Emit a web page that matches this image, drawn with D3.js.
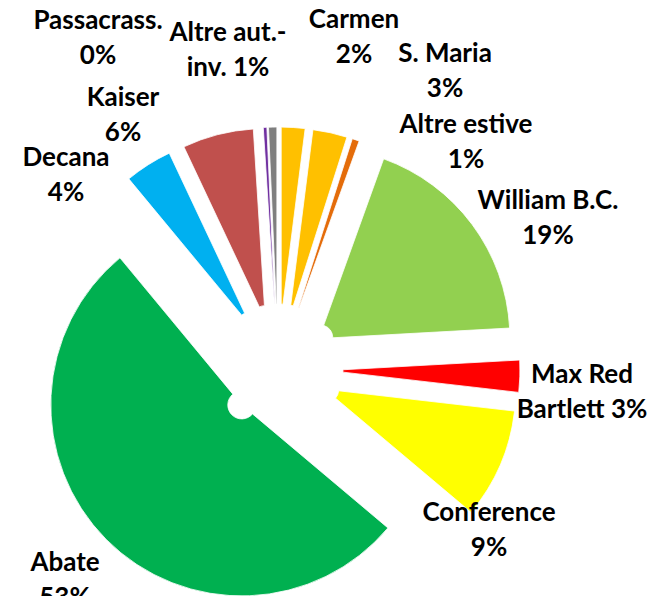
<!DOCTYPE html>
<html>
<head>
<meta charset="utf-8">
<script src="https://cdn.jsdelivr.net/npm/d3@7"></script>
<style>
  body { margin: 0; background: #fff; }
  .lbl { font-family: Lato, "Open Sans", sans-serif; font-weight: 700; font-size: 26px; fill: #000; }
</style>
</head>
<body>
<script>
const svgWidth = 654,
    svgHeight = 596,
    cx = 278, cy = 369,
    outerR = 191, innerR = 14,
    explode = 51,
    lineGap = 35;

// pie slices, clockwise from 12 o'clock (share in %)
const names = ["Carmen", "S. Maria", "Altre estive", "William B.C.", "Max Red Bartlett", "Conference",
    "Abate", "Decana", "Kaiser", "Passacrass.", "Altre aut.-inv."];
const values = [2.0, 2.9, 0.6, 18.6, 2.7, 9.3, 52.8, 4.0, 6.0, 0.3, 0.7];
const colors = ["#FFC000", "#FFC000", "#E46C0A", "#92D050", "#FF0000", "#FFFF00",
    "#00B050", "#00B0F0", "#C0504D", "#7030A0", "#7F7F7F"];
// how each label breaks over two lines (the percent goes on the last line)
const labelLines = [["Carmen"], ["S. Maria"], ["Altre estive"], ["William B.C."], ["Max Red", "Bartlett"],
    ["Conference"], ["Abate"], ["Decana"], ["Kaiser"], ["Passacrass."], ["Altre aut.-", "inv."]];
// label block centres, relative to the pie centre
const labelPos = [[76, -333], [167, -299], [188, -228], [270, -152], [304, 22],
    [211, 160], [-213, 210], [-212, -195], [-155, -255], [-180, -332], [-50, -320]];

const total = d3.sum(values);
const data = names.map(function (n, i) {
    return { name: n, value: values[i], color: colors[i], lines: labelLines[i], pos: labelPos[i] };
});

const pie = d3.pie()
    .sort(null)
    .value(function (d) { return d.value; });

const arc = d3.arc()
    .innerRadius(innerR)
    .outerRadius(outerR);

const svg = d3.select("body").append("svg")
    .attr("width", svgWidth)
    .attr("height", svgHeight);

const g = svg.append("g")
    .attr("transform", "translate(" + cx + "," + cy + ")");

// every slice is pulled out along its mid angle
g.selectAll("path")
    .data(pie(data))
    .enter().append("path")
    .attr("transform", function (d) {
        const a = (d.startAngle + d.endAngle) / 2;
        return "translate(" + (Math.sin(a) * explode) + "," + (-Math.cos(a) * explode) + ")";
    })
    .attr("d", arc)
    .attr("fill", function (d) { return d.data.color; })
    .attr("stroke", "#fff")
    .attr("stroke-width", 0.8);

// data labels: name, then percent
const labels = g.selectAll(".lbl")
    .data(data)
    .enter().append("text")
    .attr("class", "lbl")
    .attr("text-anchor", "middle");

labels.each(function (d) {
    const pct = Math.round(d.value / total * 100) + "%";
    const rows = [d.lines[0], (d.lines[1] ? d.lines[1] + " " : "") + pct];
    d3.select(this).selectAll("tspan")
        .data(rows)
        .enter().append("tspan")
        .attr("x", d.pos[0])
        .attr("y", function (r, i) { return d.pos[1] + (i - 0.5) * lineGap + 9; })
        .text(function (r) { return r; });
});
</script>
</body>
</html>
